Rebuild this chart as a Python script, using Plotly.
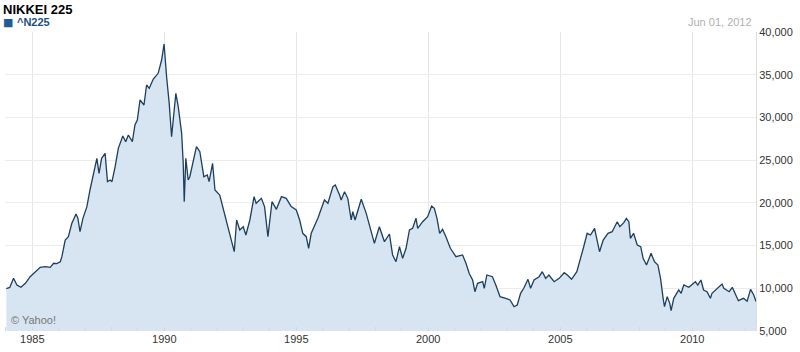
import plotly.graph_objects as go

# Nikkei 225 closing levels
dates = [
    "1984-01-08", "1984-02-24", "1984-04-16", "1984-06-02", "1984-07-27", "1984-09-27", "1984-12-02",
    "1985-03-08", "1985-04-20", "1985-06-28", "1985-09-05", "1985-10-23", "1985-12-05",
    "1986-01-23", "1986-02-14", "1986-04-01", "1986-05-15", "1986-07-02", "1986-08-29", "1986-09-24",
    "1986-10-23", "1986-12-02",
    "1987-01-26", "1987-03-10", "1987-04-27", "1987-06-13", "1987-07-13", "1987-08-18", "1987-10-05",
    "1987-11-07", "1987-12-14",
    "1988-01-08", "1988-02-21", "1988-04-05", "1988-06-06", "1988-07-16", "1988-08-22", "1988-10-16",
    "1988-11-21", "1988-12-24",
    "1989-01-30", "1989-03-26", "1989-05-01", "1989-06-07", "1989-07-31", "1989-10-08", "1989-11-25",
    "1989-12-29",
    "1990-02-02", "1990-03-10", "1990-04-12", "1990-05-05", "1990-06-10", "1990-07-13", "1990-08-29",
    "1990-09-20", "1990-10-04", "1990-10-26", "1990-11-28", "1990-12-20",
    "1991-03-22", "1991-05-08", "1991-07-02", "1991-08-19", "1991-09-13", "1991-10-31", "1991-12-03",
    "1992-02-07", "1992-04-16", "1992-05-12", "1992-06-25", "1992-08-26", "1992-09-28", "1992-11-10",
    "1992-12-28",
    "1993-02-03", "1993-03-30", "1993-05-27", "1993-06-25", "1993-09-05", "1993-10-19", "1993-12-05",
    "1994-01-30", "1994-04-01", "1994-06-10", "1994-08-15", "1994-10-23",
    "1995-01-01", "1995-02-17", "1995-04-01", "1995-05-19", "1995-06-21", "1995-07-27", "1995-10-27",
    "1996-01-26", "1996-03-14", "1996-05-22", "1996-06-24", "1996-08-22", "1996-09-13", "1996-10-30",
    "1996-12-14",
    "1997-01-30", "1997-02-21", "1997-03-25", "1997-06-18", "1997-08-26", "1997-11-03", "1997-12-17",
    "1998-02-24", "1998-05-05", "1998-07-13", "1998-08-26", "1998-10-12", "1998-11-29",
    "1999-01-12", "1999-02-28", "1999-04-16", "1999-05-30", "1999-07-16", "1999-08-08", "1999-10-16",
    "1999-12-24",
    "2000-02-17", "2000-03-25", "2000-05-01", "2000-06-07", "2000-07-17", "2000-09-02", "2000-11-02",
    "2001-01-19", "2001-04-20", "2001-06-06", "2001-07-20", "2001-09-06", "2001-10-08", "2001-11-14",
    "2002-01-23", "2002-02-14", "2002-03-22", "2002-06-07", "2002-07-24", "2002-09-20", "2002-12-09",
    "2003-02-06", "2003-04-02", "2003-05-16", "2003-07-02", "2003-08-15", "2003-10-12", "2003-11-17",
    "2004-01-04", "2004-03-14", "2004-04-27", "2004-06-13", "2004-07-27", "2004-10-08", "2004-12-17",
    "2005-02-24", "2005-04-09", "2005-06-06", "2005-08-18", "2005-10-08", "2005-11-21",
    "2006-01-08", "2006-02-24", "2006-04-20", "2006-05-15", "2006-06-28", "2006-08-18", "2006-10-23",
    "2006-12-20",
    "2007-02-28", "2007-04-05", "2007-05-30", "2007-07-05", "2007-08-08", "2007-08-29", "2007-10-12",
    "2007-12-02",
    "2008-01-19", "2008-02-21", "2008-04-08", "2008-06-10", "2008-07-27", "2008-09-13", "2008-10-19",
    "2008-11-24", "2008-12-13",
    "2009-01-19", "2009-02-24", "2009-03-14", "2009-04-20", "2009-06-28", "2009-07-31", "2009-09-06",
    "2009-11-14",
    "2010-02-14", "2010-03-18", "2010-05-01", "2010-06-07", "2010-07-24", "2010-09-09", "2010-10-01",
    "2010-12-09",
    "2011-02-17", "2011-03-14", "2011-04-13", "2011-05-27", "2011-07-09", "2011-09-02", "2011-10-01",
    "2011-12-09",
    "2012-01-30", "2012-03-18", "2012-05-01", "2012-06-01",
]
closes = [
    9950, 10100, 11170, 10385, 10115, 10580, 11360,
    12060, 12455, 12530, 12455, 12925, 12880,
    13110, 13700, 15650, 16040, 17610, 18700, 18190,
    16620, 18190,
    19550, 21505, 23460, 25215, 23460, 25215, 25800,
    22480, 22675,
    22480, 24230, 26385, 27830, 27160, 27945, 27160,
    29115, 29700,
    32040, 31455, 33800, 33410, 34460, 35165, 36720,
    38600,
    34755, 31650, 27745, 30085, 32825, 31260, 28140,
    24630, 20135, 25215, 22675, 23060,
    26575, 25990, 23060, 23260, 22480, 24630, 21505,
    20920, 18580, 17610, 16440, 14285, 17995, 16825,
    17210,
    16240, 17995, 20725, 19950, 20530, 19560, 16040,
    20135, 19245, 20725, 20530, 19560,
    19165, 17995, 16435, 16040, 14680, 16435, 18190,
    20335, 19950, 21900, 22090, 20920, 20335, 21310,
    20530,
    17995, 18965, 17995, 20415, 18775, 16435, 15265,
    17210, 15455, 16355, 13900, 13110, 14865,
    13510, 14680, 16825, 17020, 18190, 17020, 17795,
    18385,
    19635, 19365, 18190, 16435, 16905, 16040, 14680,
    13700, 13900, 12925, 11755, 10970, 9600, 10580,
    10775, 10000, 11555, 11360, 10385, 9015, 8825,
    8630, 7845, 8045, 9415, 10000, 11050, 10000,
    10970, 11360, 11945, 11165, 11555, 10775, 11165,
    11825, 11555, 11050, 11945, 13700, 14865,
    16435, 16240, 17020, 15850, 14285, 15650, 16435,
    16620,
    17795, 17210, 17680, 18190, 17795, 15850, 16435,
    15065,
    14865, 13510, 12725, 14095, 13110, 12725, 11165,
    8825, 7845,
    9015, 8240, 7375, 8825, 9800, 9415, 10385,
    10115,
    10775, 10385, 10970, 9800, 9600, 8825, 9415,
    10000,
    10500, 10000, 9800, 9600, 10115, 9015, 8550,
    8825,
    8500, 9880, 9215, 8440,
]

series_name = "^N225"
chart_title = "NIKKEI 225"
as_of = "Jun 01, 2012"
year_ticks = ["1985-01-01", "1990-01-01", "1995-01-01", "2000-01-01", "2005-01-01", "2010-01-01"]
year_labels = ["1985", "1990", "1995", "2000", "2005", "2010"]
y_ticks = [5000, 10000, 15000, 20000, 25000, 30000, 35000, 40000]

FONT = "Liberation Sans, Arial, sans-serif"
PLOT_H = 299

fig = go.Figure()
fig.add_trace(go.Scatter(
    x=dates, y=closes, mode="lines", name=series_name,
    line=dict(color="#1d3f5c", width=1.3),
    fill="tozeroy", fillcolor="#d6e5f1",
    hoverinfo="skip", showlegend=False,
))

fig.update_layout(
    width=800, height=352,
    margin=dict(l=5, r=44, t=32, b=21),
    paper_bgcolor="white", plot_bgcolor="white",
    font=dict(family=FONT, size=11, color="#333333"),
    showlegend=False,
    xaxis=dict(
        type="date",
        range=["1983-12-20", "2012-06-01"],
        tickvals=year_ticks, ticktext=year_labels,
        showgrid=True, gridcolor="#e6e6e6", gridwidth=1,
        zeroline=False, showline=False,
        ticks="", tickfont=dict(size=11, color="#333333"),
        minor=dict(dtick="M12", tick0="1985-01-01", ticks="inside", ticklen=4,
                   tickcolor="#cfd9e3", showgrid=False),
        fixedrange=True,
    ),
    yaxis=dict(
        side="right",
        range=[5000, 40000],
        tickvals=y_ticks, tickformat=",",
        showgrid=True, gridcolor="#ececec", gridwidth=1,
        zeroline=False, showline=True, linecolor="#dddddd", linewidth=1,
        ticks="", tickfont=dict(size=11, color="#333333"),
        automargin=False,
        fixedrange=True,
    ),
    annotations=[
        dict(text="<b>" + chart_title + "</b>", xref="paper", yref="paper",
             x=-0.0053, y=1.0 + 23 / PLOT_H, xanchor="left", yanchor="middle",
             showarrow=False, font=dict(family=FONT, size=13, color="#000000")),
        dict(text="■", xref="paper", yref="paper",
             x=-0.0053, y=1.0 + 10 / PLOT_H, xanchor="left", yanchor="middle",
             showarrow=False, font=dict(family="DejaVu Sans", size=11, color="#1f5b94")),
        dict(text="<b>" + series_name + "</b>",
             xref="paper", yref="paper",
             x=0.0133, y=1.0 + 10 / PLOT_H, xanchor="left", yanchor="middle",
             showarrow=False, font=dict(family=FONT, size=11, color="#1f4f7f")),
        dict(text=as_of, xref="paper", yref="paper",
             x=0.997, y=1.0 + 10 / PLOT_H, xanchor="right", yanchor="middle",
             showarrow=False, font=dict(family=FONT, size=11, color="#b0b0b0")),
        dict(text="© Yahoo!", xref="paper", yref="paper",
             x=0.005, y=11 / PLOT_H, xanchor="left", yanchor="middle",
             showarrow=False, font=dict(family=FONT, size=11, color="#777777")),
    ],
)

fig.write_html(
    "out.html",
    config={"displayModeBar": False, "staticPlot": True},
    post_script="document.body.style.margin='0';document.body.style.padding='0';",
)
